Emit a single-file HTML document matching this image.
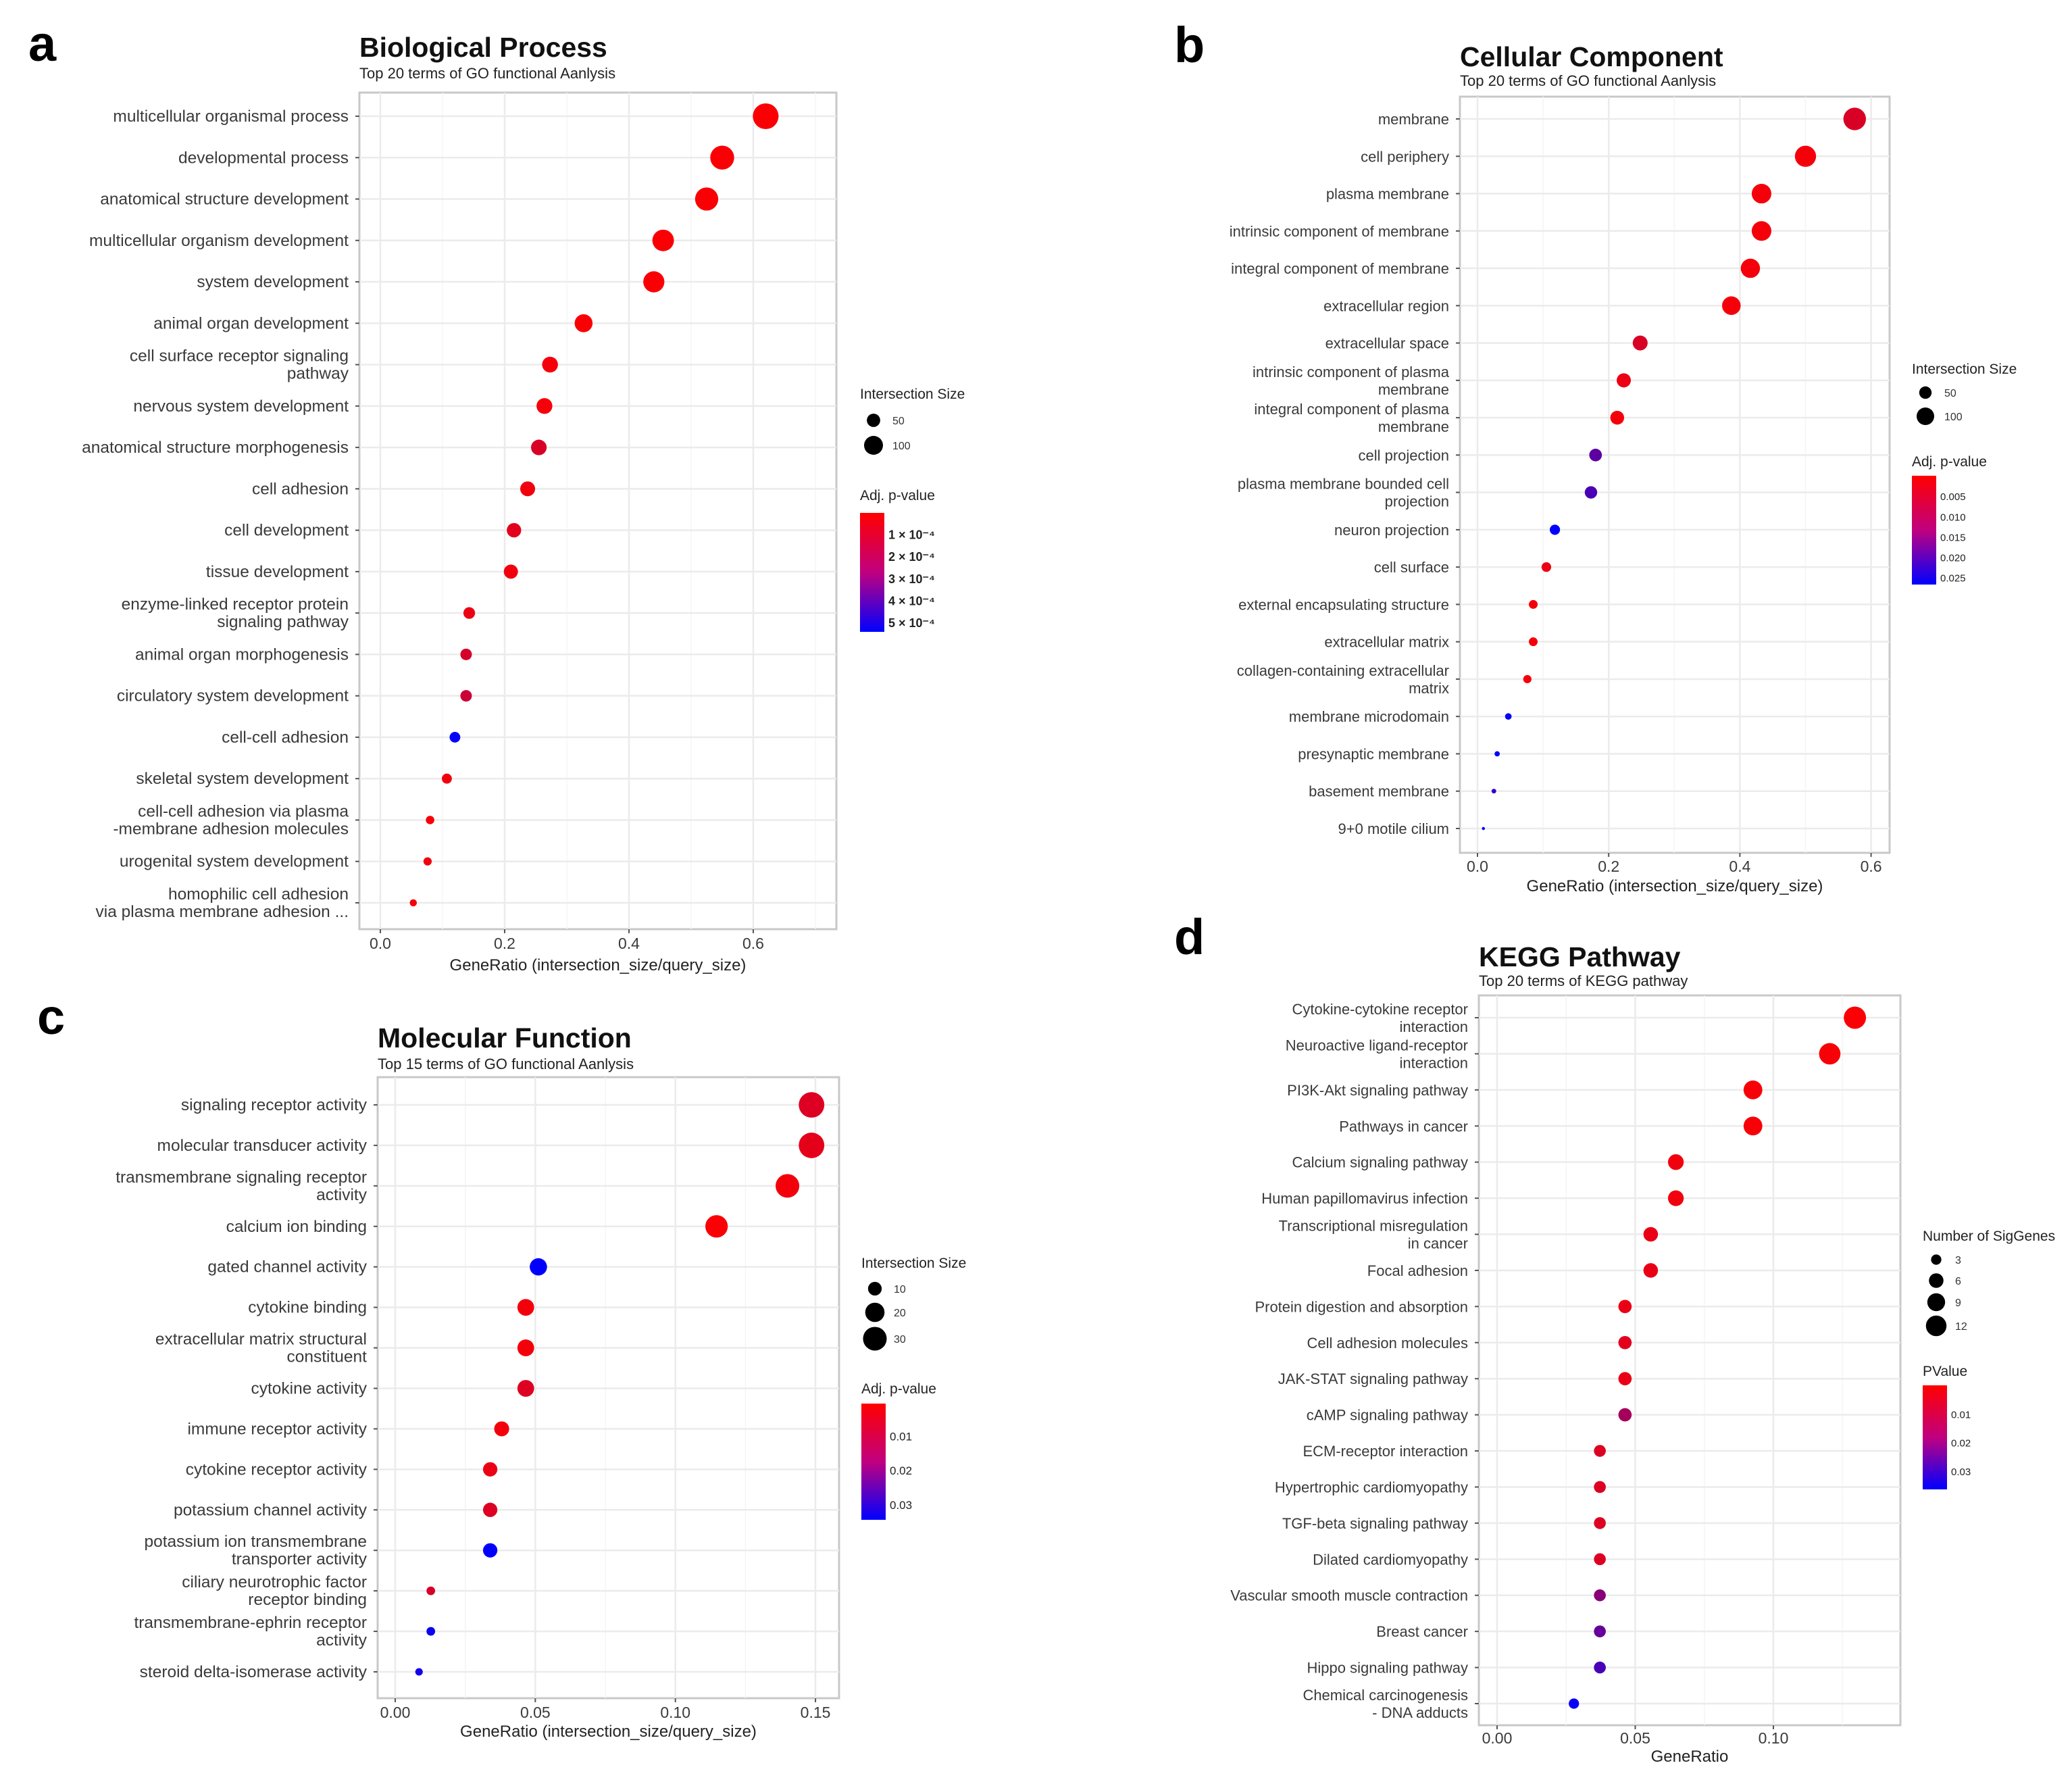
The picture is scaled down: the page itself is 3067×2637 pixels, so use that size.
<!DOCTYPE html>
<html><head><meta charset="utf-8">
<style>
html,body{margin:0;padding:0;background:#fff;}
svg{display:block;font-family:"Liberation Sans",Arial,sans-serif;}
</style></head>
<body>
<svg id="fig" width="3067" height="2637" viewBox="0 0 3067 2637" xmlns="http://www.w3.org/2000/svg">
<rect x="0" y="0" width="3067" height="2637" fill="#fff"/>
<text x="42" y="90" font-size="74" font-weight="bold" fill="#000">a</text>
<text x="1738" y="92" font-size="74" font-weight="bold" fill="#000">b</text>
<text x="55" y="1530" font-size="74" font-weight="bold" fill="#000">c</text>
<text x="1738" y="1412" font-size="74" font-weight="bold" fill="#000">d</text>
</svg>
<script>
// ---- Panel a data ----
const aCategories = ["multicellular organismal process","developmental process","anatomical structure development","multicellular organism development","system development","animal organ development","cell surface receptor signaling\npathway","nervous system development","anatomical structure morphogenesis","cell adhesion","cell development","tissue development","enzyme-linked receptor protein\nsignaling pathway","animal organ morphogenesis","circulatory system development","cell-cell adhesion","skeletal system development","cell-cell adhesion via plasma\n-membrane adhesion molecules","urogenital system development","homophilic cell adhesion\nvia plasma membrane adhesion ..."];
const aRatio = [0.62,0.55,0.525,0.455,0.44,0.327,0.273,0.264,0.255,0.237,0.215,0.21,0.143,0.138,0.138,0.12,0.107,0.08,0.076,0.053];
const aSize = [185,160,150,130,125,90,70,70,68,62,58,56,38,37,37,32,28,20,19,14];
const aPval = [0.00001,0.00001,0.00001,0.00001,0.00001,0.00001,0.00002,0.00002,0.00008,0.00003,0.00006,0.00003,0.00004,0.00009,0.00011,0.00053,0.00003,0.00002,0.00003,0.00002];
const aTicks = [0,0.2,0.4,0.6];
const aPTicks = [0.0001,0.0002,0.0003,0.0004,0.0005];
const aPTickLabels = ["1 × 10⁻⁴","2 × 10⁻⁴","3 × 10⁻⁴","4 × 10⁻⁴","5 × 10⁻⁴"];
const aSizeLegend = [50,100];
// ---- Panel b data ----
const bCategories = ["membrane","cell periphery","plasma membrane","intrinsic component of membrane","integral component of membrane","extracellular region","extracellular space","intrinsic component of plasma\nmembrane","integral component of plasma\nmembrane","cell projection","plasma membrane bounded cell\nprojection","neuron projection","cell surface","external encapsulating structure","extracellular matrix","collagen-containing extracellular\nmatrix","membrane microdomain","presynaptic membrane","basement membrane","9+0 motile cilium"];
const bRatio = [0.575,0.5,0.433,0.433,0.416,0.387,0.248,0.223,0.213,0.18,0.173,0.118,0.105,0.085,0.085,0.076,0.047,0.03,0.025,0.009];
const bSize = [165,145,125,125,120,112,72,65,62,52,50,34,30,25,25,22,14,9,7,3];
const bPval = [0.004,0.001,0.001,0.001,0.001,0.001,0.004,0.002,0.001,0.017,0.019,0.027,0.002,0.001,0.001,0.001,0.026,0.027,0.021,0.027];
const bTicks = [0,0.2,0.4,0.6];
const bPTicks = [0.005,0.010,0.015,0.020,0.025];
const bPTickLabels = ["0.005","0.010","0.015","0.020","0.025"];
const bSizeLegend = [50,100];
// ---- Panel c data ----
const cCategories = ["signaling receptor activity","molecular transducer activity","transmembrane signaling receptor\nactivity","calcium ion binding","gated channel activity","cytokine binding","extracellular matrix structural\nconstituent","cytokine activity","immune receptor activity","cytokine receptor activity","potassium channel activity","potassium ion transmembrane\ntransporter activity","ciliary neurotrophic factor\nreceptor binding","transmembrane-ephrin receptor\nactivity","steroid delta-isomerase activity"];
const cRatio = [0.1486,0.1486,0.140,0.1147,0.0511,0.0466,0.0466,0.0466,0.038,0.0339,0.0339,0.0339,0.0127,0.0127,0.0085];
const cSize = [35,35,30,27,16,15,15,15,12,11,11,11,4,4,3];
const cPval = [0.005,0.004,0.002,0.001,0.034,0.002,0.002,0.005,0.002,0.003,0.005,0.034,0.006,0.033,0.032];
const cTicks = [0,0.05,0.10,0.15];
const cPTicks = [0.01,0.02,0.03];
const cPTickLabels = ["0.01","0.02","0.03"];
const cSizeLegend = [10,20,30];
// ---- Panel d data ----
const dCategories = ["Cytokine-cytokine receptor\ninteraction","Neuroactive ligand-receptor\ninteraction","PI3K-Akt signaling pathway","Pathways in cancer","Calcium signaling pathway","Human papillomavirus infection","Transcriptional misregulation\nin cancer","Focal adhesion","Protein digestion and absorption","Cell adhesion molecules","JAK-STAT signaling pathway","cAMP signaling pathway","ECM-receptor interaction","Hypertrophic cardiomyopathy","TGF-beta signaling pathway","Dilated cardiomyopathy","Vascular smooth muscle contraction","Breast cancer","Hippo signaling pathway","Chemical carcinogenesis\n- DNA adducts"];
const dRatio = [0.1295,0.1204,0.0926,0.0926,0.0647,0.0647,0.0556,0.0556,0.0463,0.0463,0.0463,0.0463,0.0372,0.0372,0.0372,0.0372,0.0372,0.0372,0.0372,0.0278];
const dSize = [14,13,10,10,7,7,6,6,5,5,5,5,4,4,4,4,4,4,4,3];
const dPval = [0.0005,0.001,0.001,0.001,0.002,0.002,0.003,0.003,0.003,0.004,0.003,0.013,0.005,0.005,0.005,0.005,0.017,0.022,0.026,0.035];
const dTicks = [0,0.05,0.10];
const dPTicks = [0.01,0.02,0.03];
const dPTickLabels = ["0.01","0.02","0.03"];
const dSizeLegend = [3,6,9,12];

const NS = "http://www.w3.org/2000/svg";
const svg = document.getElementById('fig');
function mk(tag, attrs, parent){
  const e = document.createElementNS(NS, tag);
  for (const k in attrs) e.setAttribute(k, attrs[k]);
  (parent||svg).appendChild(e);
  return e;
}
function col(p, pmin, pmax){
  let t = (p - pmin)/(pmax - pmin); t = Math.max(0, Math.min(1, t));
  return "rgb(" + Math.round(255*(1-t)) + ",0," + Math.round(255*t) + ")";
}

function panel(P){
  const g = mk('g', {});
  
  
  const xs = v => P.x0 + v * P.ppu;
  const n = P.cats.length;
  const ys = i => P.yFirst + i * (P.yLast - P.yFirst) / (n - 1);
  const t = mk('text', {x:P.bx, y:P.titleY, 'font-size':41, 'font-weight':'bold', fill:'#111'}, g);
  t.textContent = P.title;
  
  
  const st = mk('text', {x:P.bx, y:P.subY, 'font-size':22, fill:'#222'}, g);
  st.textContent = P.subtitle;
  
  
  const box = mk('rect', {x:P.bx, y:P.by, width:P.bw, height:P.bh, fill:'#fff', stroke:'#c8c8c8', 'stroke-width':3}, g);
  
  
  const step = P.ticks[1] - P.ticks[0];
  for (let v = -step/2; xs(v) < P.bx + P.bw; v += step/2) {
    const X = xs(v); if (X <= P.bx) continue;
    const major = Math.abs(Math.round(v/step)*step - v) < 1e-9;
    const gl = mk('line', {x1:X, x2:X, y1:P.by, y2:P.by+P.bh, stroke: major ? '#ebebeb' : '#f5f5f5', 'stroke-width': major?2.5:1.5}, g);
    
    
  }
  for (let i = 0; i < n; i++) {
    const hl = mk('line', {x1:P.bx, x2:P.bx+P.bw, y1:ys(i), y2:ys(i), stroke:'#ebebeb', 'stroke-width':2.5}, g);
    
    
    const tk = mk('line', {x1:P.bx-6, x2:P.bx, y1:ys(i), y2:ys(i), stroke:'#555', 'stroke-width':2}, g);
    
    
    const lines = P.cats[i].split('\n');
    const lab = mk('text', {x:P.bx-16, y:ys(i) + 8 - (lines.length-1)*13, 'font-size':P.lf, fill:'#3a3a3a', 'text-anchor':'end'}, g);
    
    
    lines.forEach((ln, k) => {
      const ts = mk('tspan', {x:P.bx-16, dy: k===0 ? 0 : 26}, lab);
      ts.textContent = ln;
    });
  }
  P.ticks.forEach(v => {
    const tk = mk('line', {x1:xs(v), x2:xs(v), y1:P.by+P.bh, y2:P.by+P.bh+6, stroke:'#555', 'stroke-width':2}, g);
    
    
    const lb = mk('text', {x:xs(v), y:P.tickY, 'font-size':23, fill:'#3a3a3a', 'text-anchor':'middle'}, g);
    lb.textContent = P.tickFmt(v);
    
    
  });
  const xt = mk('text', {x:P.bx+P.bw/2, y:P.xtY, 'font-size':24, fill:'#222', 'text-anchor':'middle'}, g);
  xt.textContent = P.xTitle;
  
  
  for (let i = 0; i < n; i++) {
    const c = mk('circle', {cx:xs(P.ratio[i]), cy:ys(i), r:P.rk*Math.sqrt(P.size[i]), fill:col(P.pval[i], P.pmin, P.pmax)}, g);
    
    
  }
  const L = P.leg;
  const lt = mk('text', {x:L.x, y:L.sy, 'font-size':21, fill:'#222'}, g);
  lt.textContent = P.sizeTitle;
  
  
  P.sizeLeg.forEach((s, k) => {
    const cy = L.dots[k];
    const c = mk('circle', {cx:L.x+20, cy:cy, r:P.rk*Math.sqrt(s), fill:'#000'}, g);
    
    
    const tx = mk('text', {x:L.x+48, y:cy+6, 'font-size':16, fill:'#333'}, g);
    tx.textContent = s;
    
    
  });
  const ct = mk('text', {x:L.x, y:L.cy, 'font-size':21, fill:'#222'}, g);
  ct.textContent = P.colTitle;
  
  
  const gid = 'grad-' + P.name;
  const defs = mk('defs', {}, g);
  const lg = mk('linearGradient', {id:gid, x1:0, y1:0, x2:0, y2:1}, defs);
  mk('stop', {offset:'0', 'stop-color':'#ff0000'}, lg);
  mk('stop', {offset:'0.5', 'stop-color':'#c0007f'}, lg);
  mk('stop', {offset:'1', 'stop-color':'#0000ff'}, lg);
  const by0 = L.b0, bh = L.b1 - L.b0;
  const bar = mk('rect', {x:L.x, y:by0, width:36, height:bh, fill:'url(#'+gid+')'}, g);
  
  
  P.pTicks.forEach((v, k) => {
    const yy = by0 + (v - P.pmin)/(P.pmax - P.pmin)*bh;
    const tx = mk('text', {x:L.x+42, y:yy+6, 'font-size':P.pFont, fill:'#222', 'font-weight':P.pBold?'bold':'normal'}, g);
    tx.textContent = P.pLabels[k];
    
    
  });
}

panel({name:'panel-a-biological-process', title:'Biological Process', subtitle:'Top 20 terms of GO functional Aanlysis',
  bx:532, by:137, bw:706, bh:1238, x0:563, ppu:920, yFirst:172, yLast:1336, lf:24.5,
  cats:aCategories, ratio:aRatio, size:aSize, pval:aPval, pmin:0, pmax:0.00054, ticks:aTicks,
  tickFmt:v=>v.toFixed(1), xTitle:'GeneRatio (intersection_size/query_size)', titleY:84, subY:116, tickY:1404, xtY:1436, rk:1.4,
  sizeTitle:'Intersection Size', sizeLeg:aSizeLegend, colTitle:'Adj. p-value', pTicks:aPTicks, pLabels:aPTickLabels, pFont:18, pBold:true,
  leg:{x:1273, sy:590, dots:[622,659], cy:740, b0:759, b1:935}});

panel({name:'panel-b-cellular-component', title:'Cellular Component', subtitle:'Top 20 terms of GO functional Aanlysis',
  bx:2161, by:143, bw:636, bh:1119, x0:2187, ppu:971, yFirst:176, yLast:1226, lf:22,
  cats:bCategories, ratio:bRatio, size:bSize, pval:bPval, pmin:0, pmax:0.0267, ticks:bTicks,
  tickFmt:v=>v.toFixed(1), xTitle:'GeneRatio (intersection_size/query_size)', titleY:98, subY:127, tickY:1290, xtY:1319, rk:1.3,
  sizeTitle:'Intersection Size', sizeLeg:bSizeLegend, colTitle:'Adj. p-value', pTicks:bPTicks, pLabels:bPTickLabels, pFont:15, pBold:false,
  leg:{x:2830, sy:553, dots:[581,616], cy:690, b0:704, b1:865}});

panel({name:'panel-c-molecular-function', title:'Molecular Function', subtitle:'Top 15 terms of GO functional Aanlysis',
  bx:559, by:1594, bw:683, bh:919, x0:585, ppu:4147, yFirst:1635, yLast:2474, lf:24.5,
  cats:cCategories, ratio:cRatio, size:cSize, pval:cPval, pmin:0.0005, pmax:0.0343, ticks:cTicks,
  tickFmt:v=>v.toFixed(2), xTitle:'GeneRatio (intersection_size/query_size)', titleY:1550, subY:1582, tickY:2542, xtY:2570, rk:3.2,
  sizeTitle:'Intersection Size', sizeLeg:cSizeLegend, colTitle:'Adj. p-value', pTicks:cPTicks, pLabels:cPTickLabels, pFont:17, pBold:false,
  leg:{x:1275, sy:1876, dots:[1907,1942,1981], cy:2062, b0:2077, b1:2249}});

panel({name:'panel-d-kegg-pathway', title:'KEGG Pathway', subtitle:'Top 20 terms of KEGG pathway',
  bx:2189, by:1473, bw:624, bh:1080, x0:2216, ppu:4090, yFirst:1506, yLast:2521, lf:22,
  cats:dCategories, ratio:dRatio, size:dSize, pval:dPval, pmin:0, pmax:0.0364, ticks:dTicks,
  tickFmt:v=>v.toFixed(2), xTitle:'GeneRatio', titleY:1430, subY:1459, tickY:2580, xtY:2607, rk:4.4,
  sizeTitle:'Number of SigGenes', sizeLeg:dSizeLegend, colTitle:'PValue', pTicks:dPTicks, pLabels:dPTickLabels, pFont:15, pBold:false,
  leg:{x:2846, sy:1836, dots:[1864,1895,1927,1962], cy:2036, b0:2050, b1:2204}});
</script>
</body></html>
